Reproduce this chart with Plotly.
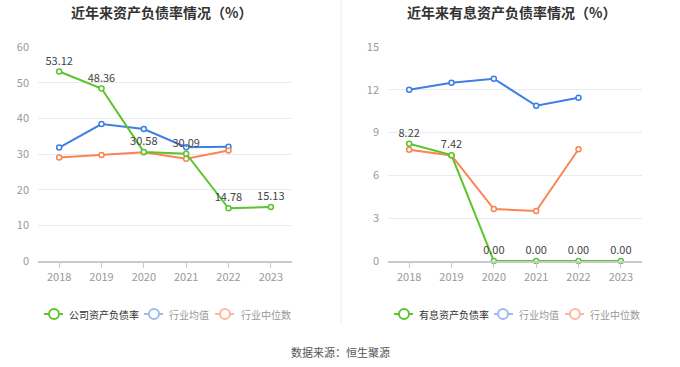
import plotly.graph_objects as go

years = ["2018", "2019", "2020", "2021", "2022", "2023"]

# Left chart: 资产负债率
company_debt = [53.12, 48.36, 30.58, 30.09, 14.78, 15.13]
industry_avg = [31.8, 38.4, 37.0, 31.9, 32.0, None]
industry_median = [29.0, 29.7, 30.5, 28.7, 31.0, None]

# Right chart: 有息资产负债率
company_int = [8.22, 7.42, 0.00, 0.00, 0.00, 0.00]
int_avg = [12.0, 12.5, 12.78, 10.88, 11.44, None]
int_median = [7.8, 7.4, 3.64, 3.5, 7.83, None]

titles = ["近年来资产负债率情况（%）", "近年来有息资产负债率情况（%）"]
legend_left = ["公司资产负债率", "行业均值", "行业中位数"]
legend_right = ["有息资产负债率", "行业均值", "行业中位数"]
source_text = "数据来源：恒生聚源"

GREEN = "#5cc42d"
BLUE = "#3d7ee8"
ORANGE = "#fa8452"
FONT = "Noto Sans CJK SC"

W, H = 680, 367

def px(x):
    return x / W

def py(y):
    return 1 - y / H

fig = go.Figure()

def add_series(x_ax, y_ax, vals, color, labels):
    fig.add_trace(go.Scatter(
        x=years, y=vals, xaxis=x_ax, yaxis=y_ax,
        mode="lines+markers+text" if labels else "lines+markers",
        line=dict(color=color, width=2),
        marker=dict(symbol="circle", size=5, color="white",
                    line=dict(color=color, width=1.5)),
        text=[f"{v:.2f}" if v is not None else "" for v in vals] if labels else None,
        textposition="top center",
        textfont=dict(family=FONT, size=11, color="#444"),
        showlegend=False, cliponaxis=False, hoverinfo="skip",
    ))

add_series("x", "y", industry_avg, BLUE, False)
add_series("x", "y", industry_median, ORANGE, False)
add_series("x", "y", company_debt, GREEN, True)
add_series("x2", "y2", int_avg, BLUE, False)
add_series("x2", "y2", int_median, ORANGE, False)
add_series("x2", "y2", company_int, GREEN, True)

xcommon = dict(type="category", range=[-0.5, 5.5], showgrid=False,
               showline=True, linecolor="#c8c9cc", linewidth=1.5,
               ticks="outside", ticklen=5, tickcolor="#c8c9cc",
               tickfont=dict(family=FONT, size=11, color="#999"),
               fixedrange=True, automargin=False)
ycommon = dict(showgrid=True, gridcolor="#e6ebf5", gridwidth=1,
               zeroline=False, showline=False, ticks="",
               tickfont=dict(family=FONT, size=11, color="#999"),
               ticklabelstandoff=8, fixedrange=True, automargin=False)

ydom = [py(261), py(47)]
fig.update_layout(
    width=W, height=H, margin=dict(l=0, r=0, t=0, b=0, autoexpand=False),
    paper_bgcolor="white", plot_bgcolor="white",
    xaxis=dict(domain=[px(38), px(292)], anchor="y", **xcommon),
    yaxis=dict(domain=ydom, anchor="x", range=[0, 60], dtick=10, **ycommon),
    xaxis2=dict(domain=[px(388), px(642)], anchor="y2", **xcommon),
    yaxis2=dict(domain=ydom, anchor="x2", range=[0, 15], dtick=3, **ycommon),
)

shapes = []
annotations = []

# titles
for t, cx in zip(titles, [161, 511]):
    annotations.append(dict(text=f"<b>{t}</b>", x=px(cx), y=py(12), xref="paper", yref="paper",
                            showarrow=False, xanchor="center", yanchor="middle",
                            font=dict(family=FONT, size=14, color="#333")))

# divider
shapes.append(dict(type="line", xref="paper", yref="paper", x0=px(341), x1=px(341),
                   y0=py(0), y1=py(325), line=dict(color="#eeeeee", width=1)))

# manual legends
def legend_item(x0, x1, cx, color, label, tx, tcolor):
    ly = py(314)
    shapes.append(dict(type="line", xref="paper", yref="paper", x0=px(x0), x1=px(x1),
                       y0=ly, y1=ly, line=dict(color=color, width=2)))
    r = 5
    shapes.append(dict(type="circle", xref="paper", yref="paper",
                       x0=px(cx - r), x1=px(cx + r), y0=py(314 + r), y1=py(314 - r),
                       fillcolor="white", line=dict(color=color, width=2)))
    annotations.append(dict(text=label, x=px(tx), y=ly, xref="paper", yref="paper",
                            showarrow=False, xanchor="left", yanchor="middle",
                            font=dict(family=FONT, size=10, color=tcolor)))

FBLUE = "#9dbaf3"
FORANGE = "#fcb89c"
legend_item(44, 63, 54, GREEN, legend_left[0], 67, "#333")
legend_item(144, 163, 154, FBLUE, legend_left[1], 167, "#999")
legend_item(215, 234, 225, FORANGE, legend_left[2], 239, "#999")
legend_item(394, 413, 404, GREEN, legend_right[0], 417, "#333")
legend_item(494, 513, 503, FBLUE, legend_right[1], 517, "#999")
legend_item(565, 584, 575, FORANGE, legend_right[2], 588, "#999")

annotations.append(dict(text=source_text, x=px(340), y=py(352), xref="paper", yref="paper",
                        showarrow=False, xanchor="center", yanchor="middle",
                        font=dict(family=FONT, size=11, color="#555")))

fig.update_layout(shapes=shapes, annotations=annotations)
fig.write_html("out.html",
               config={"displayModeBar": False},
               post_script="document.body.style.margin='0';document.body.style.overflow='hidden';")
